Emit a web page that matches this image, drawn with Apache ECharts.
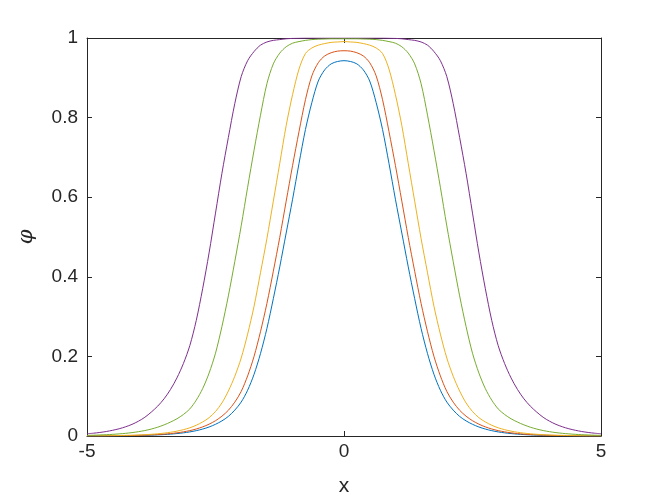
<!DOCTYPE html>
<html>
<head>
<meta charset="utf-8">
<script src="https://cdn.jsdelivr.net/npm/echarts@6/dist/echarts.min.js"></script>
<style>html,body{margin:0;padding:0;background:#fff;}#c{width:664px;height:498px;}</style>
</head>
<body>
<div id="c"></div>
<script>
var xs = [-5, -4.875, -4.75, -4.625, -4.5, -4.375, -4.25, -4.125, -4, -3.875, -3.75, -3.625, -3.5, -3.375, -3.25, -3.125,
          -3, -2.875, -2.75, -2.625, -2.5, -2.375, -2.25, -2.125, -2, -1.875, -1.75, -1.625, -1.5, -1.375, -1.25, -1.125,
          -1, -0.875, -0.75, -0.625, -0.5, -0.375, -0.25, -0.125, 0,
          0.125, 0.25, 0.375, 0.5, 0.625, 0.75, 0.875, 1, 1.125, 1.25, 1.375, 1.5, 1.625, 1.75, 1.875, 2,
          2.125, 2.25, 2.375, 2.5, 2.625, 2.75, 2.875, 3, 3.125, 3.25, 3.375, 3.5, 3.625, 3.75, 3.875, 4,
          4.125, 4.25, 4.375, 4.5, 4.625, 4.75, 4.875, 5];

var bluePhi = [0.00015, 0.0002, 0.00026, 0.00034, 0.00044, 0.00057, 0.00075, 0.001, 0.0013, 0.0017, 0.0021, 0.0028, 0.0036, 0.0047, 0.0061, 0.0079,
               0.0103, 0.0134, 0.0174, 0.0226, 0.0294, 0.038, 0.0492, 0.065, 0.0853, 0.115, 0.155, 0.207, 0.27, 0.345, 0.425, 0.51,
               0.595, 0.685, 0.77, 0.838, 0.892, 0.92, 0.935, 0.941, 0.943,
               0.941, 0.935, 0.92, 0.892, 0.838, 0.77, 0.685, 0.595, 0.51, 0.425, 0.345, 0.27, 0.207, 0.155, 0.115, 0.0853,
               0.065, 0.0492, 0.038, 0.0294, 0.0226, 0.0174, 0.0134, 0.0103, 0.0079, 0.0061, 0.0047, 0.0036, 0.0028, 0.0021, 0.0017, 0.0013,
               0.001, 0.00075, 0.00057, 0.00044, 0.00034, 0.00026, 0.0002, 0.00015];
var orangePhi = [0.0002, 0.00025, 0.0003, 0.0004, 0.0006, 0.0008, 0.001, 0.0013, 0.0017, 0.0022, 0.0028, 0.0036, 0.0047, 0.0061, 0.008, 0.0104,
                 0.0135, 0.0176, 0.0229, 0.0297, 0.0384, 0.0498, 0.0646, 0.085, 0.112, 0.151, 0.200, 0.262, 0.333, 0.414, 0.499, 0.59,
                 0.68, 0.765, 0.845, 0.905, 0.938, 0.955, 0.963, 0.967, 0.968,
                 0.967, 0.963, 0.955, 0.938, 0.905, 0.845, 0.765, 0.68, 0.59, 0.499, 0.414, 0.333, 0.262, 0.200, 0.151, 0.112,
                 0.085, 0.0646, 0.0498, 0.0384, 0.0297, 0.0229, 0.0176, 0.0135, 0.0104, 0.008, 0.0061, 0.0047, 0.0036, 0.0028, 0.0022, 0.0017,
                 0.0013, 0.001, 0.0008, 0.0006, 0.0004, 0.0003, 0.00025, 0.0002];
var yellowPhi = [0.0003, 0.0004, 0.0005, 0.0007, 0.0009, 0.0012, 0.0015, 0.002, 0.0025, 0.0033, 0.0043, 0.0056, 0.0072, 0.0094, 0.0122, 0.0159,
                 0.0206, 0.027, 0.0353, 0.046, 0.0615, 0.083, 0.113, 0.15, 0.196, 0.256, 0.326, 0.41, 0.496, 0.59, 0.685, 0.78,
                 0.858, 0.922, 0.961, 0.975, 0.982, 0.986, 0.989, 0.990, 0.991,
                 0.990, 0.989, 0.986, 0.982, 0.975, 0.961, 0.922, 0.858, 0.78, 0.685, 0.59, 0.496, 0.41, 0.326, 0.256, 0.196,
                 0.15, 0.113, 0.083, 0.0615, 0.046, 0.0353, 0.027, 0.0206, 0.0159, 0.0122, 0.0094, 0.0072, 0.0056, 0.0043, 0.0033, 0.0025,
                 0.002, 0.0015, 0.0012, 0.0009, 0.0007, 0.0005, 0.0004, 0.0003];
var greenPhi = [0.0016, 0.002, 0.0026, 0.0033, 0.0042, 0.0053, 0.0067, 0.0085, 0.0108, 0.0137, 0.0174, 0.0221, 0.028, 0.035, 0.0433, 0.054,
                0.068, 0.09, 0.119, 0.158, 0.208, 0.275, 0.352, 0.438, 0.528, 0.625, 0.718, 0.806, 0.885, 0.935, 0.962, 0.978,
                0.987, 0.991, 0.994, 0.996, 0.997, 0.9975, 0.998, 0.998, 0.998,
                0.998, 0.998, 0.9975, 0.997, 0.996, 0.994, 0.991, 0.987, 0.978, 0.962, 0.935, 0.885, 0.806, 0.718, 0.625, 0.528,
                0.438, 0.352, 0.275, 0.208, 0.158, 0.119, 0.09, 0.068, 0.054, 0.0433, 0.035, 0.028, 0.0221, 0.0174, 0.0137, 0.0108,
                0.0085, 0.0067, 0.0053, 0.0042, 0.0033, 0.0026, 0.002, 0.0016];
var purplePhi = [0.0056, 0.007, 0.0089, 0.0113, 0.0144, 0.0182, 0.0231, 0.0292, 0.0371, 0.047, 0.060, 0.075, 0.0935, 0.117, 0.146, 0.182,
                 0.227, 0.29, 0.37, 0.46, 0.56, 0.66, 0.75, 0.835, 0.903, 0.943, 0.966, 0.982, 0.99, 0.994, 0.996, 0.998,
                 0.999, 0.9995, 1, 1, 1, 1, 1, 1, 1,
                 1, 1, 1, 1, 1, 1, 0.9995, 0.999, 0.998, 0.996, 0.994, 0.99, 0.982, 0.966, 0.943, 0.903,
                 0.835, 0.75, 0.66, 0.56, 0.46, 0.37, 0.29, 0.227, 0.182, 0.146, 0.117, 0.0935, 0.075, 0.060, 0.047, 0.0371,
                 0.0292, 0.0231, 0.0182, 0.0144, 0.0113, 0.0089, 0.007, 0.0056];

var xTicks = [-5, 0, 5];
var yTicks = [0, 0.2, 0.4, 0.6, 0.8, 1];

var seriesDefs = [
  {name: 'c1', color: '#0072BD', vals: bluePhi},
  {name: 'c2', color: '#D95319', vals: orangePhi},
  {name: 'c3', color: '#EDB120', vals: yellowPhi},
  {name: 'c4', color: '#7E2F8E', vals: purplePhi},
  {name: 'c5', color: '#77AC30', vals: greenPhi}
];

var txt = '#262626';
var font = "'Liberation Sans', Arial, Helvetica, sans-serif";

function axisBase(extra) {
  var a = {
    type: 'value',
    axisLine: {show: true, onZero: false, lineStyle: {color: txt, width: 1}},
    axisTick: {show: true, inside: true, length: 5, lineStyle: {color: txt, width: 1}},
    splitLine: {show: false},
    axisLabel: {show: false}
  };
  for (var k in extra) a[k] = extra[k];
  return a;
}

var chart = echarts.init(document.getElementById('c'), null, {renderer: 'canvas'});
chart.setOption({
  animation: false,
  backgroundColor: '#ffffff',
  grid: {left: 87, right: 63, top: 38, bottom: 62, containLabel: false, outerBoundsMode: 'none'},
  xAxis: [
    axisBase({
      position: 'bottom', min: xTicks[0], max: xTicks[xTicks.length - 1], interval: 5,
      axisLabel: {show: true, color: txt, fontSize: 19, fontFamily: font, margin: 6},
      name: 'x', nameLocation: 'middle', nameGap: 40,
      nameTextStyle: {color: txt, fontSize: 21, fontFamily: font}
    }),
    axisBase({position: 'top', min: xTicks[0], max: xTicks[xTicks.length - 1], interval: 5})
  ],
  yAxis: [
    axisBase({
      position: 'left', min: yTicks[0], max: yTicks[yTicks.length - 1], interval: 0.2,
      axisLabel: {show: true, color: txt, fontSize: 19, fontFamily: font, margin: 9,
        formatter: function (v) { return String(Math.round(v * 10) / 10); }},
      name: '\u03C6', nameLocation: 'middle', nameGap: 50,
      nameTextStyle: {color: txt, fontSize: 21, fontFamily: "'DejaVu Serif', serif", fontStyle: 'italic'}
    }),
    axisBase({position: 'right', min: yTicks[0], max: yTicks[yTicks.length - 1], interval: 0.2})
  ],
  series: seriesDefs.map(function (s) {
    return {
      name: s.name, type: 'line', xAxisIndex: 0, yAxisIndex: 0,
      data: xs.map(function (x, i) { return [x, s.vals[i]]; }),
      showSymbol: false, smooth: 0.3,
      lineStyle: {color: s.color, width: 1},
      itemStyle: {color: s.color}
    };
  })
});
</script>
</body>
</html>
